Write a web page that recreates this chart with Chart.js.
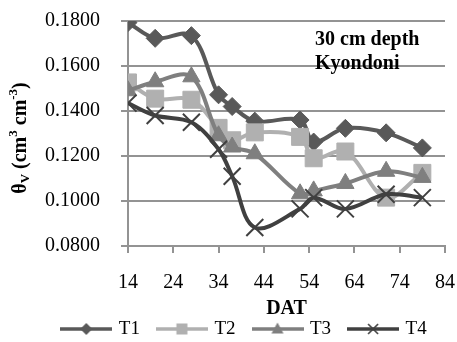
<!DOCTYPE html>
<html>
<head>
<meta charset="utf-8">
<script src="https://cdn.jsdelivr.net/npm/chart.js@4.4.0/dist/chart.umd.min.js"></script>
<style>
  html, body { margin: 0; padding: 0; background: #fff; }
  #grafico { display: block; }
</style>
</head>
<body>
<canvas id="grafico" width="457" height="342"></canvas>
<script>
// days after transplanting (DAT)
const dias = [14, 20, 28, 34, 37, 42, 52, 55, 62, 71, 79];
const t1 = [0.1793, 0.1723, 0.1735, 0.1472, 0.1420, 0.1355, 0.1360, 0.1262, 0.1323, 0.1303, 0.1236];
const t2 = [0.1527, 0.1455, 0.1450, 0.1325, 0.1270, 0.1305, 0.1285, 0.1190, 0.1220, 0.1015, 0.1125];
const t3 = [0.1490, 0.1530, 0.1552, 0.1290, 0.1240, 0.1210, 0.1032, 0.1045, 0.1078, 0.1132, 0.1105];
const t4 = [0.1435, 0.1380, 0.1350, 0.1230, 0.1110, 0.0882, 0.0965, 0.1015, 0.0965, 0.1030, 0.1015];
const etiquetas = ['T1', 'T2', 'T3', 'T4'];
const yTicks = [0.08, 0.10, 0.12, 0.14, 0.16, 0.18];
const xTicks = [14, 24, 34, 44, 54, 64, 74, 84];
const nota = ['30 cm depth', 'Kyondoni'];

const colores = ['#595959', '#b0b0b0', '#7f7f7f', '#404040'];
const estilos = ['rectRot', 'rect', 'triangle', 'crossRot'];
const radios = [9, 12, 10, 12];
const serie = [t1, t2, t3, t4];
const fuente = "'Liberation Serif', 'Times New Roman', serif";

// little line+marker pictures for the legend
function iconoLeyenda(i) {
  const c = document.createElement('canvas');
  c.width = 52; c.height = 16;
  const g = c.getContext('2d');
  const cx = 26, cy = 8;
  g.strokeStyle = colores[i];
  g.fillStyle = colores[i];
  g.lineWidth = 3.5;
  g.beginPath(); g.moveTo(0, cy); g.lineTo(52, cy); g.stroke();
  g.beginPath();
  if (i === 0) {
    g.moveTo(cx, cy - 6); g.lineTo(cx + 6, cy); g.lineTo(cx, cy + 6); g.lineTo(cx - 6, cy); g.closePath(); g.fill();
  } else if (i === 1) {
    g.fillRect(cx - 5.5, cy - 5.5, 11, 11);
  } else if (i === 2) {
    g.moveTo(cx, cy - 6.5); g.lineTo(cx + 6, cy + 4.5); g.lineTo(cx - 6, cy + 4.5); g.closePath(); g.fill();
  } else {
    g.lineWidth = 1.6;
    g.moveTo(cx - 5, cy - 5); g.lineTo(cx + 5, cy + 5);
    g.moveTo(cx + 5, cy - 5); g.lineTo(cx - 5, cy + 5); g.stroke();
  }
  return c;
}
const iconos = etiquetas.map((_, i) => iconoLeyenda(i));

const datasets = etiquetas.map((lab, i) => ({
  label: lab,
  data: dias.map((d, k) => ({ x: d, y: serie[i][k] })),
  borderColor: colores[i],
  backgroundColor: colores[i],
  borderWidth: 4,
  pointStyle: estilos[i],
  pointRadius: radios[i],
  pointBorderWidth: i === 3 ? 2 : 1,
  pointBackgroundColor: colores[i],
  pointBorderColor: colores[i],
  showLine: true,
  tension: 0.35,
  order: 4 - i
}));

const rejilla = '#939393';

// y title with subscript / superscripts, and the note
const textos = {
  id: 'textos',
  afterDraw(chart) {
    const ctx = chart.ctx;
    const partes = [
      ['θ', 20, 0], ['V', 13, 5], [' (cm', 20, 0], ['3', 13, -7], [' cm', 20, 0], ['-3', 13, -7], [')', 20, 0]
    ];
    ctx.save();
    let total = 0;
    partes.forEach(p => { ctx.font = 'bold ' + p[1] + 'px ' + fuente; total += ctx.measureText(p[0]).width; });
    ctx.translate(20, 138);
    ctx.rotate(-Math.PI / 2);
    ctx.fillStyle = '#000';
    ctx.textBaseline = 'middle';
    ctx.textAlign = 'left';
    let x = -total / 2;
    partes.forEach(p => {
      ctx.font = 'bold ' + p[1] + 'px ' + fuente;
      ctx.fillText(p[0], x, p[2] + 1);
      x += ctx.measureText(p[0]).width;
    });
    ctx.restore();

    ctx.save();
    ctx.font = 'bold 20px ' + fuente;
    ctx.fillStyle = '#000';
    ctx.textBaseline = 'alphabetic';
    ctx.fillText(nota[0], 315, 45);
    ctx.fillText(nota[1], 315, 69);
    ctx.restore();
  }
};

const ctx = document.getElementById('grafico').getContext('2d');
window.miGrafico = new Chart(ctx, {
  type: 'scatter',
  data: { datasets: datasets },
  plugins: [textos],
  options: {
    responsive: false,
    animation: false,
    layout: { autoPadding: false, padding: { left: 35, right: 2, top: 21, bottom: -6.5 } },
    plugins: {
      tooltip: { enabled: false },
      legend: {
        display: true,
        position: 'bottom',
        labels: {
          usePointStyle: true,
          pointStyleWidth: 46,
          padding: 19,
          color: '#000',
          font: { family: fuente, size: 19 },
          generateLabels: () => etiquetas.map((lab, i) => ({
            text: lab,
            pointStyle: iconos[i],
            fillStyle: colores[i],
            strokeStyle: colores[i],
            lineWidth: 0,
            hidden: false,
            datasetIndex: i
          }))
        }
      }
    },
    scales: {
      x: {
        type: 'linear',
        min: 14,
        max: 84,
        afterBuildTicks: s => { s.ticks = xTicks.map(v => ({ value: v })); },
        ticks: { color: '#000', padding: 18, font: { family: fuente, size: 20 }, maxRotation: 0 },
        grid: { drawOnChartArea: false, drawTicks: true, tickLength: 7, color: rejilla, lineWidth: 2 },
        border: { color: rejilla, width: 2 },
        title: { display: true, text: 'DAT', color: '#000', font: { family: fuente, size: 20, weight: 'bold' }, padding: { top: 0, bottom: -20 } },
        afterFit: s => { s.height = 54.5; s.paddingLeft = 0; s.paddingRight = 12; }
      },
      y: {
        min: 0.08,
        max: 0.18,
        afterBuildTicks: s => { s.ticks = yTicks.map(v => ({ value: v })); },
        ticks: { color: '#000', padding: 21, font: { family: fuente, size: 20 }, callback: v => v.toFixed(4) },
        grid: { color: rejilla, lineWidth: 2, tickLength: 7 },
        border: { color: rejilla, width: 2 },
        afterFit: s => { s.width = 93; s.paddingTop = 0; s.paddingBottom = 0; }
      }
    }
  }
});
</script>
</body>
</html>
